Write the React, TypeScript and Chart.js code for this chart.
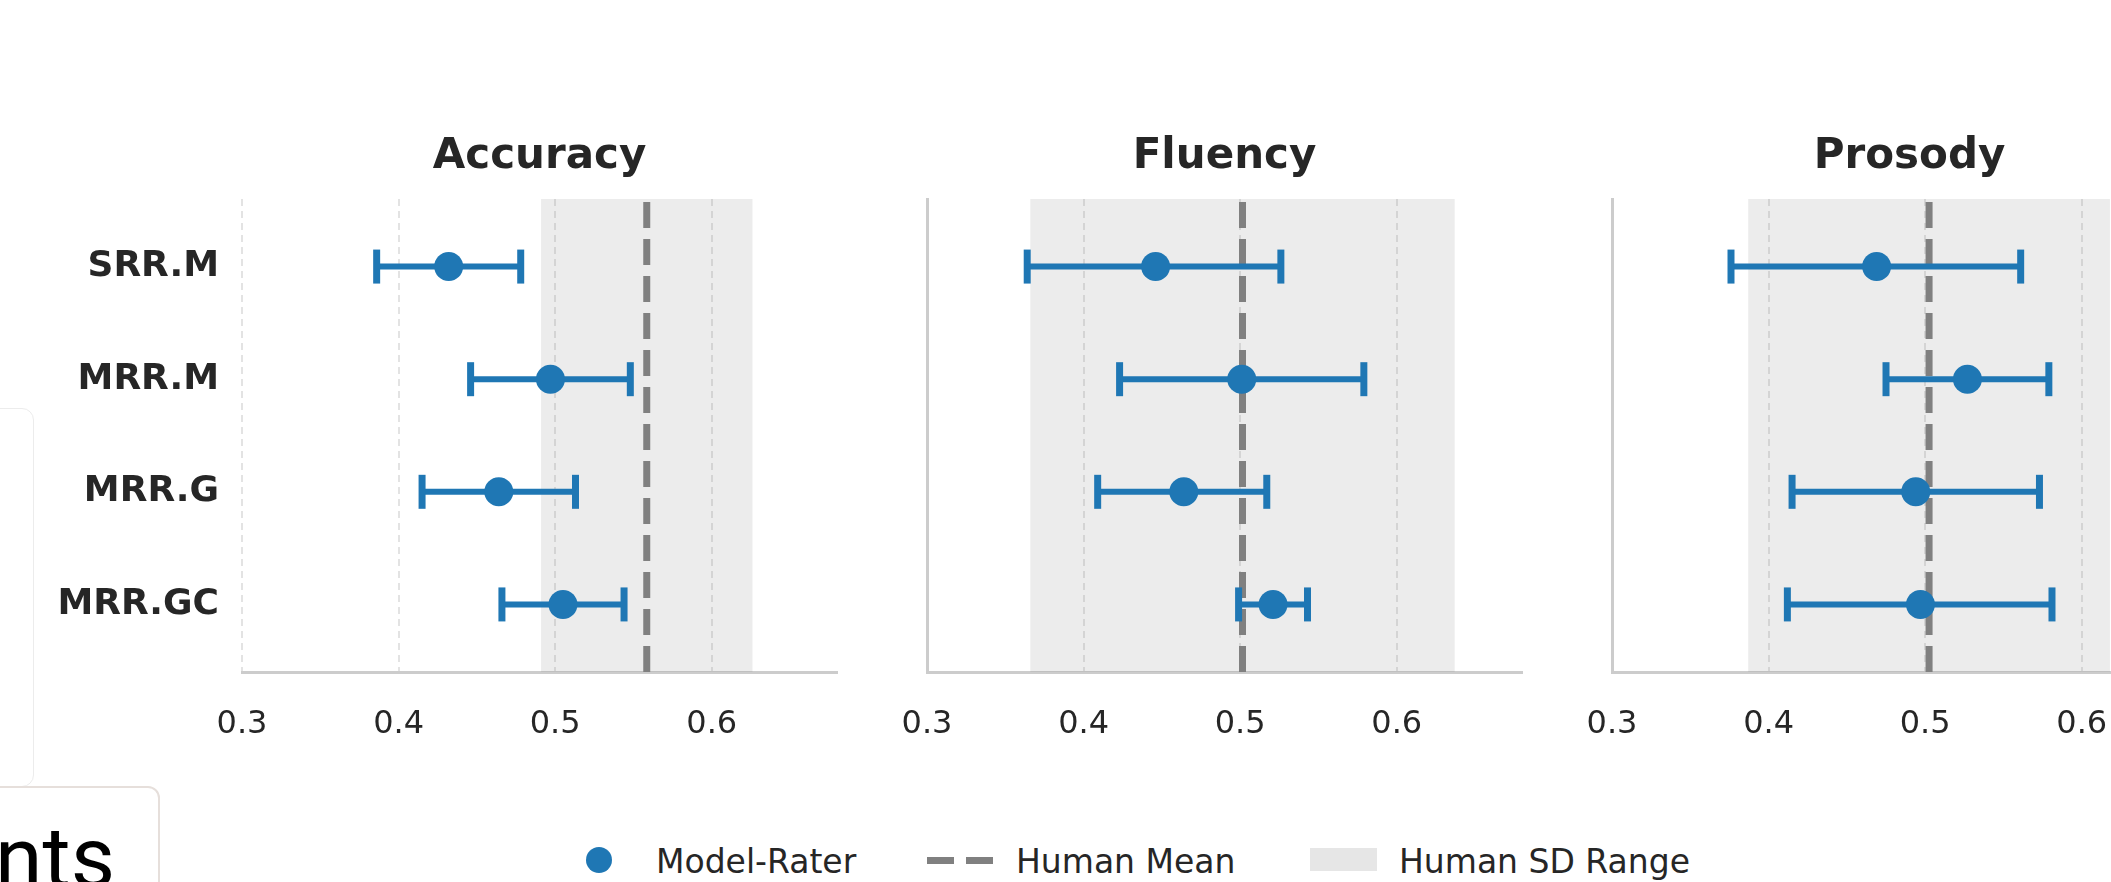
import React, { useEffect, useRef } from 'react';
import { Chart, registerables } from 'chart.js';

Chart.register(...registerables);

// ---------------- data ----------------
const categories = ['SRR.M', 'MRR.M', 'MRR.G', 'MRR.GC'];
const metrics = ['Accuracy', 'Fluency', 'Prosody'];
const xTickValues = [0.3, 0.4, 0.5, 0.6];

const accuracyMean = [0.432, 0.497, 0.464, 0.505];
const accuracyLow = [0.386, 0.446, 0.415, 0.466];
const accuracyHigh = [0.478, 0.548, 0.513, 0.544];

const fluencyMean = [0.446, 0.501, 0.464, 0.521];
const fluencyLow = [0.364, 0.423, 0.409, 0.499];
const fluencyHigh = [0.526, 0.579, 0.517, 0.543];

const prosodyMean = [0.469, 0.527, 0.494, 0.497];
const prosodyLow = [0.376, 0.475, 0.415, 0.412];
const prosodyHigh = [0.561, 0.579, 0.573, 0.581];

const humanMean = [0.5585, 0.5015, 0.5025];
const humanSD = [0.0675, 0.1355, 0.1155];

const legendLabels = ['Model-Rater', 'Human Mean', 'Human SD Range'];

const seriesMean = [accuracyMean, fluencyMean, prosodyMean];
const seriesLow = [accuracyLow, fluencyLow, prosodyLow];
const seriesHigh = [accuracyHigh, fluencyHigh, prosodyHigh];

// ---------------- styles ----------------
const BLUE = '#1f77b4';
const TEXT = '#262626';
const MEAN_GRAY = '#808080';
const SPINE = '#cccccc';
const FONT = "'DejaVu Sans', sans-serif";

const Y_MIN = -0.6;
const Y_MAX = 3.6;
const CANVAS_H = 760;
const PLOT_BOTTOM = 672;
const TITLE_PAD_TOP = 132;

type PanelLayout = { left: number; width: number; yWidth: number; padRight: number };
const panelLayouts: PanelLayout[] = [
  { left: 0, width: 880, yWidth: 242, padRight: 43 },
  { left: 847, width: 713, yWidth: 80, padRight: 38 },
  { left: 1532, width: 728, yWidth: 80, padRight: 53 },
];

function Panel({ idx }: { idx: number }) {
  const ref = useRef<HTMLCanvasElement | null>(null);
  const lay = panelLayouts[idx];

  useEffect(() => {
    if (!ref.current) return;
    Chart.defaults.font.family = FONT;
    const mean = seriesMean[idx];
    const low = seriesLow[idx];
    const high = seriesHigh[idx];
    const hm = humanMean[idx];
    const sd = humanSD[idx];

    const datasets: any[] = [];
    // SD shading
    datasets.push({
      data: [
        { x: hm - sd, y: Y_MIN },
        { x: hm - sd, y: Y_MAX },
        { x: hm + sd, y: Y_MAX },
        { x: hm + sd, y: Y_MIN },
        { x: hm - sd, y: Y_MIN },
      ],
      showLine: true,
      fill: 'shape',
      backgroundColor: 'rgba(128,128,128,0.15)',
      borderWidth: 0,
      borderColor: 'rgba(0,0,0,0)',
      pointRadius: 0,
      order: 10,
    });
    // human mean
    datasets.push({
      data: [
        { x: hm, y: Y_MAX },
        { x: hm, y: Y_MIN },
      ],
      showLine: true,
      borderColor: MEAN_GRAY,
      borderWidth: 7,
      borderDash: [26, 11],
      borderCapStyle: 'butt',
      pointRadius: 0,
      fill: false,
      order: 5,
    });
    // error bars
    categories.forEach((_, i) => {
      datasets.push({
        data: [
          { x: low[i], y: i },
          { x: high[i], y: i },
        ],
        showLine: true,
        borderColor: BLUE,
        borderWidth: 6,
        pointStyle: 'line',
        rotation: 90,
        pointRadius: 17,
        pointBorderWidth: 7,
        pointBorderColor: BLUE,
        pointBackgroundColor: BLUE,
        fill: false,
        order: 2,
      });
    });
    // model-rater points
    datasets.push({
      data: categories.map((_, i) => ({ x: mean[i], y: i })),
      pointRadius: 14.5,
      pointBackgroundColor: BLUE,
      pointBorderWidth: 0,
      backgroundColor: BLUE,
      borderColor: BLUE,
      order: 1,
    });

    const chart = new Chart(ref.current, {
      type: 'scatter',
      data: { datasets },
      options: {
        animation: false,
        responsive: false,
        events: [],
        layout: { padding: { left: 0, right: lay.padRight, top: 0, bottom: 0 } },
        plugins: {
          legend: { display: false },
          tooltip: { enabled: false },
          title: {
            display: true,
            text: metrics[idx],
            color: TEXT,
            fullSize: false,
            font: { family: FONT, size: 42, weight: 'bold' },
            padding: { top: TITLE_PAD_TOP, bottom: 199 - TITLE_PAD_TOP - 50.4 },
          },
        },
        scales: {
          x: {
            type: 'linear',
            position: 'bottom',
            min: 0.3,
            max: 0.68,
            afterBuildTicks: (s: any) => {
              s.ticks = xTickValues.map((v) => ({ value: v }));
            },
            afterFit: (s: any) => {
              s.height = CANVAS_H - PLOT_BOTTOM;
            },
            ticks: {
              callback: (v: any) => Number(v).toFixed(1),
              color: TEXT,
              font: { family: FONT, size: 32 },
              padding: 33,
              maxRotation: 0,
              autoSkip: false,
            },
            grid: { display: true, color: 'rgba(170,170,170,0.33)', lineWidth: 2, drawTicks: false },
            border: { display: true, color: SPINE, width: 3, dash: [7, 5] },
          },
          y: {
            type: 'linear',
            min: Y_MIN,
            max: Y_MAX,
            reverse: true,
            afterBuildTicks: (s: any) => {
              s.ticks = categories.map((_, i) => ({ value: i }));
            },
            afterFit: (s: any) => {
              s.width = lay.yWidth;
            },
            ticks: {
              display: idx === 0,
              callback: (v: any) => categories[Number(v)] ?? '',
              color: TEXT,
              font: { family: FONT, size: 36, weight: 'bold' },
              padding: 23,
              autoSkip: false,
            },
            grid: { display: false, drawTicks: false },
            border: { display: idx !== 0, color: SPINE, width: 3 },
          },
        },
      } as any,
    });
    return () => chart.destroy();
  }, [idx]);

  return (
    <canvas
      ref={ref}
      width={lay.width}
      height={CANVAS_H}
      style={{ position: 'absolute', left: lay.left, top: 0, width: lay.width, height: CANVAS_H }}
    />
  );
}

const legendText: React.CSSProperties = {
  position: 'absolute',
  top: 845,
  fontFamily: FONT,
  fontSize: 33,
  lineHeight: '33px',
  color: TEXT,
  whiteSpace: 'nowrap',
};

export default function App() {
  return (
    <div
      style={{
        position: 'fixed',
        left: 0,
        top: 0,
        width: 2111,
        height: 882,
        overflow: 'hidden',
        background: '#ffffff',
      }}
    >
      {/* page fragments visible at the left edge of the screenshot */}
      <div
        style={{
          position: 'absolute',
          left: -20,
          top: 408,
          width: 52,
          height: 377,
          border: '1.5px solid #ececec',
          borderRadius: 12,
          background: '#ffffff',
        }}
      />
      <div
        style={{
          position: 'absolute',
          left: -20,
          top: 786,
          width: 176,
          height: 200,
          border: '2px solid #e6dfdb',
          borderRadius: 12,
          background: '#ffffff',
        }}
      />
      <span
        style={{
          position: 'absolute',
          left: -5,
          top: 815,
          fontFamily: 'Roboto, sans-serif',
          fontSize: 86,
          lineHeight: '86px',
          color: '#000000',
          whiteSpace: 'nowrap',
        }}
      >
        nts
      </span>

      {metrics.map((_, i) => (
        <Panel key={i} idx={i} />
      ))}

      {/* legend */}
      <div
        style={{
          position: 'absolute',
          left: 586,
          top: 847,
          width: 26,
          height: 26,
          borderRadius: '50%',
          background: BLUE,
        }}
      />
      <span style={{ ...legendText, left: 656 }}>{legendLabels[0]}</span>
      <div style={{ position: 'absolute', left: 927, top: 857, width: 27, height: 7, background: MEAN_GRAY }} />
      <div style={{ position: 'absolute', left: 966, top: 857, width: 27, height: 7, background: MEAN_GRAY }} />
      <span style={{ ...legendText, left: 1016 }}>{legendLabels[1]}</span>
      <div style={{ position: 'absolute', left: 1310, top: 848, width: 67, height: 23, background: '#e6e6e6' }} />
      <span style={{ ...legendText, left: 1399 }}>{legendLabels[2]}</span>
    </div>
  );
}
